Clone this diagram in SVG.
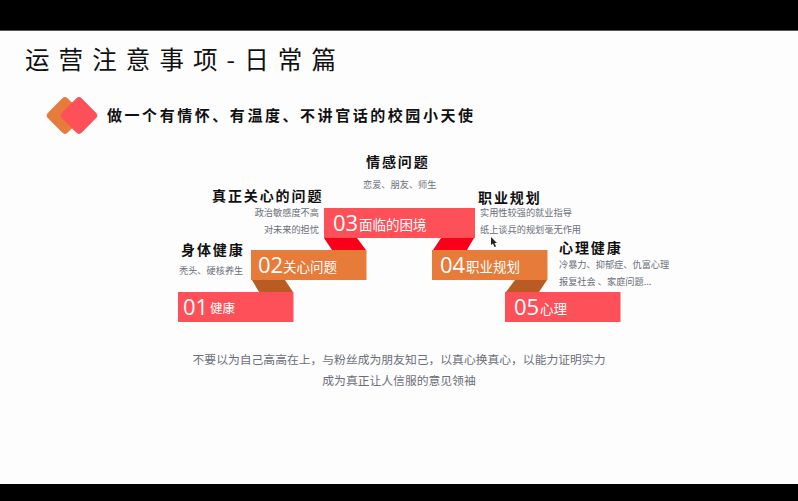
<svg xmlns="http://www.w3.org/2000/svg" width="798" height="501" viewBox="0 0 798 501">
<style>
text{font-family:"Noto Sans CJK SC","Noto Sans",sans-serif}
.h{font-size:14px;font-weight:700;fill:#111;letter-spacing:1.9px}
.s{font-size:9.200px;fill:#6b6f78}
.n{font-size:22px;fill:#fff;font-family:"Open Sans","Noto Sans",sans-serif}
.l{font-size:13.500px;fill:#fff}
.c{font-size:11.800px;fill:#6b6f78;text-anchor:middle}
.red{fill:#fd5058}.or{fill:#e67b3a}
</style>
<rect width="798" height="501" fill="#fdfdfe"/>
<rect width="798" height="30" fill="#000"/>
<rect y="30" width="798" height="1" fill="#555"/>
<rect y="484" width="798" height="17" fill="#000"/>
<text id="title" x="25" y="69" font-size="24.5" fill="#111" letter-spacing="9.1">运营注意事项-日常篇</text>
<g id="badge">
<rect x="51" y="101.500" width="28" height="28" rx="4" class="or" transform="rotate(45 65 115.500)"/>
<rect x="65" y="101.500" width="28" height="28" rx="4" class="red" transform="rotate(45 79 115.500)"/>
</g>
<text id="subtitle" x="107" y="121" font-size="15" font-weight="700" fill="#111" letter-spacing="2.55">做一个有情怀、有温度、不讲官话的校园小天使</text>
<g id="connectors">
<polygon points="252,280 285,280 293,292 259,292" fill="#b95b22"/>
<polygon points="324,238 357,238 366,250 332,250" fill="#f9001a"/>
<polygon points="441,238 474,238 467,250 433,250" fill="#f9001a"/>
<polygon points="515,280 547,280 539,292 506,292" fill="#b95b22"/>
</g>
<g id="n01">
<rect x="178" y="292" width="115.500" height="30" class="red"/>
<text x="183" y="315" class="n">01</text><text x="210" y="313" class="l" style="font-size:12.500px">健康</text>
<text x="181" y="255" class="h">身体健康</text>
<text x="179" y="274" class="s">秃头、硬核养生</text>
</g>
<g id="n02">
<rect x="251" y="250" width="115.500" height="30" class="or"/>
<text x="258" y="273" class="n">02</text><text x="283" y="272" class="l">关心问题</text>
<text x="212" y="201" class="h">真正关心的问题</text>
<text x="319" y="216" class="s" text-anchor="end">政治敏感度不高</text>
<text x="319" y="233" class="s" text-anchor="end">对未来的担忧</text>
</g>
<g id="n03">
<rect x="324" y="208" width="151" height="30" class="red"/>
<text x="333" y="231" class="n">03</text><text x="359" y="230" class="l">面临的困境</text>
<text x="366" y="167" class="h">情感问题</text>
<text x="363" y="188" class="s">恋爱、朋友、师生</text>
</g>
<g id="n04">
<rect x="432" y="250" width="115.500" height="30" class="or"/>
<text x="440" y="273" class="n">04</text><text x="466" y="272" class="l">职业规划</text>
<text x="478" y="203" class="h">职业规划</text>
<text x="480" y="216" class="s">实用性较强的就业指导</text>
<text x="480" y="233" class="s">纸上谈兵的规划毫无作用</text>
</g>
<g id="n05">
<rect x="505" y="292" width="115.500" height="30" class="red"/>
<text x="514" y="315" class="n">05</text><text x="540" y="314" class="l">心理</text>
<text x="559" y="253" class="h">心理健康</text>
<text x="559" y="268" class="s">冷暴力、抑郁症、仇富心理</text>
<text x="559" y="285" class="s">报复社会 、家庭问题...</text>
</g>
<g id="caption">
<text x="399" y="364" class="c">不要以为自己高高在上，与粉丝成为朋友知己，以真心换真心，以能力证明实力</text>
<text x="399" y="385" class="c">成为真正让人信服的意见领袖</text>
</g>
<polygon id="cursor" points="491,237 491,245 493,243.500 494.500,247 496,246.500 494.500,243 497,243" fill="#222"/>
</svg>
